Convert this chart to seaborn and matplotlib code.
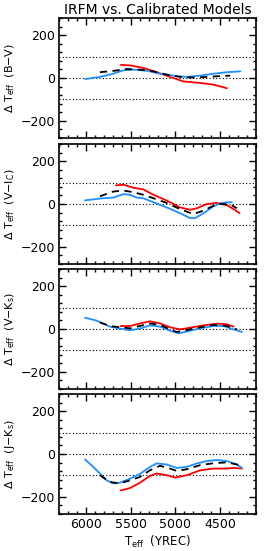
import matplotlib
matplotlib.use("Agg")
import matplotlib.pyplot as plt
import numpy as np
import pandas as pd
import seaborn as sns
from matplotlib.ticker import MultipleLocator

# -----------------------------
# Data (Teff in K, Delta Teff in K)
# -----------------------------
bv_blue_t = [6010, 5843, 5694, 5582, 5470, 5321, 5172, 5022, 4873, 4724, 4575, 4425, 4276]
bv_blue_d = [-5, 5, 20, 36, 39, 34, 20, 11, 5, 11, 20, 27, 31]
bv_red_t = [5612, 5507, 5358, 5209, 5060, 4910, 4724, 4575, 4500, 4425]
bv_red_d = [61, 59, 47, 27, 5, -16, -23, -31, -39, -48]
bv_blk_t = [5843, 5694, 5545, 5396, 5246, 5097, 4948, 4799, 4649, 4500, 4388]
bv_blk_d = [27, 33, 42, 39, 31, 16, 5, 2, 5, 9, 11]

vi_blue_t = [6010, 5806, 5694, 5582, 5507, 5433, 5358, 5246, 5097, 4948, 4836, 4780, 4687, 4575, 4500, 4425, 4369]
vi_blue_d = [17, 27, 30, 46, 43, 30, 27, 8, -16, -43, -66, -66, -43, -11, 3, 8, 8]
vi_red_t = [5664, 5582, 5470, 5358, 5246, 5097, 4948, 4836, 4761, 4649, 4537, 4425, 4351, 4284]
vi_red_d = [87, 90, 76, 68, 43, 16, -16, -27, -20, 0, 5, -5, -24, -43]
vi_blk_t = [5843, 5694, 5582, 5470, 5358, 5246, 5097, 4948, 4799, 4687, 4575, 4500, 4388, 4313]
vi_blk_d = [36, 58, 63, 55, 43, 27, 5, -24, -47, -31, -8, 0, -2, -20]

vk_blue_t = [6010, 5881, 5731, 5620, 5507, 5396, 5284, 5172, 5060, 4966, 4873, 4724, 4575, 4463, 4351, 4257]
vk_blue_d = [53, 39, 11, 2, -6, 2, 17, 11, -8, -20, -12, 3, 14, 14, -2, -14]
vk_red_t = [5612, 5507, 5396, 5284, 5172, 5060, 4948, 4836, 4687, 4537, 4425, 4351]
vk_red_d = [14, 14, 26, 36, 26, 8, -2, 6, 17, 25, 22, 11]
vk_blk_t = [5843, 5731, 5620, 5507, 5396, 5284, 5172, 5060, 4985, 4873, 4724, 4575, 4425, 4313]
vk_blk_d = [31, 14, 8, 3, 14, 26, 19, -2, -14, -5, 8, 19, 14, -2]

jk_blue_t = [6010, 5918, 5843, 5769, 5694, 5620, 5507, 5396, 5284, 5209, 5097, 4985, 4873, 4761, 4649, 4537, 4425, 4313, 4257]
jk_blue_d = [-25, -60, -91, -123, -137, -134, -115, -93, -60, -44, -49, -65, -60, -44, -33, -28, -33, -49, -65]
jk_red_t = [5612, 5507, 5396, 5284, 5209, 5097, 5004, 4873, 4724, 4575, 4425, 4351, 4257]
jk_red_d = [-170, -159, -134, -102, -91, -99, -110, -99, -76, -68, -68, -65, -68]
jk_blk_t = [5843, 5731, 5620, 5507, 5396, 5284, 5172, 5060, 4985, 4873, 4724, 4575, 4425, 4313, 4257]
jk_blk_d = [-99, -131, -137, -123, -107, -76, -55, -68, -79, -71, -52, -43, -39, -49, -65]

panels = [
    ("(B$-$V)", (bv_blue_t, bv_blue_d), (bv_red_t, bv_red_d), (bv_blk_t, bv_blk_d)),
    ("(V$-$I$_{\\rm C}$)", (vi_blue_t, vi_blue_d), (vi_red_t, vi_red_d), (vi_blk_t, vi_blk_d)),
    ("(V$-$K$_{\\rm s}$)", (vk_blue_t, vk_blue_d), (vk_red_t, vk_red_d), (vk_blk_t, vk_blk_d)),
    ("(J$-$K$_{\\rm s}$)", (jk_blue_t, jk_blue_d), (jk_red_t, jk_red_d), (jk_blk_t, jk_blk_d)),
]

# -----------------------------
# Style
# -----------------------------
sns.set_style("ticks")
plt.rcParams["font.family"] = ["DejaVu Sans"]
plt.rcParams["mathtext.fontset"] = "dejavusans"
for k in ("axes.edgecolor", "xtick.color", "ytick.color", "text.color", "axes.labelcolor"):
    plt.rcParams[k] = "black"

W, H = 265, 551
fig = plt.figure(figsize=(W / 100, H / 100), dpi=100)

left, width = 59 / W, 197 / W
tops = [18, 144, 269, 394]
ph = 120

for i, (lab, blue, red, blk) in enumerate(panels):
    ax = fig.add_axes([left, 1 - (tops[i] + ph) / H, width, ph / H])

    for y in (-100, 0, 100):
        ax.axhline(y, color="black", ls=(0, (1, 2)), lw=0.8, zorder=1)

    sns.lineplot(x=blue[0], y=blue[1], color="#1e8fff", lw=1.3, sort=False,
                 estimator=None, ax=ax, zorder=3)
    sns.lineplot(x=red[0], y=red[1], color="#ff0000", lw=1.3, sort=False,
                 estimator=None, ax=ax, zorder=2)
    sns.lineplot(x=blk[0], y=blk[1], color="black", lw=1.3, sort=False,
                 estimator=None, ax=ax, zorder=4, linestyle=(0, (4, 3)))

    ax.set_xlim(6300, 4100)
    ax.set_ylim(-280, 280)
    ax.xaxis.set_major_locator(MultipleLocator(500))
    ax.xaxis.set_minor_locator(MultipleLocator(100))
    ax.yaxis.set_major_locator(MultipleLocator(200))
    ax.yaxis.set_minor_locator(MultipleLocator(40))
    ax.tick_params(which="both", direction="in", top=True, right=True,
                   width=1.0, labelsize=9, pad=3, colors="black")
    ax.tick_params(which="major", length=5)
    ax.tick_params(which="minor", length=2.5)
    for s in ax.spines.values():
        s.set_linewidth(1.2)
        s.set_color("black")

    ax.set_ylabel(r"$\Delta$ T$_{\rm eff}$  " + lab, fontsize=8)
    ax.yaxis.set_label_coords(-0.215, 0.5)

    if i < 3:
        ax.set_xticklabels([])
        ax.set_xlabel("")
    else:
        ax.set_xlabel(r"T$_{\rm eff}$  (YREC)", fontsize=8.5, labelpad=2)

    if i == 0:
        ax.set_title("IRFM vs. Calibrated Models", fontsize=10, pad=3)

fig.savefig("out.png", dpi=100)
